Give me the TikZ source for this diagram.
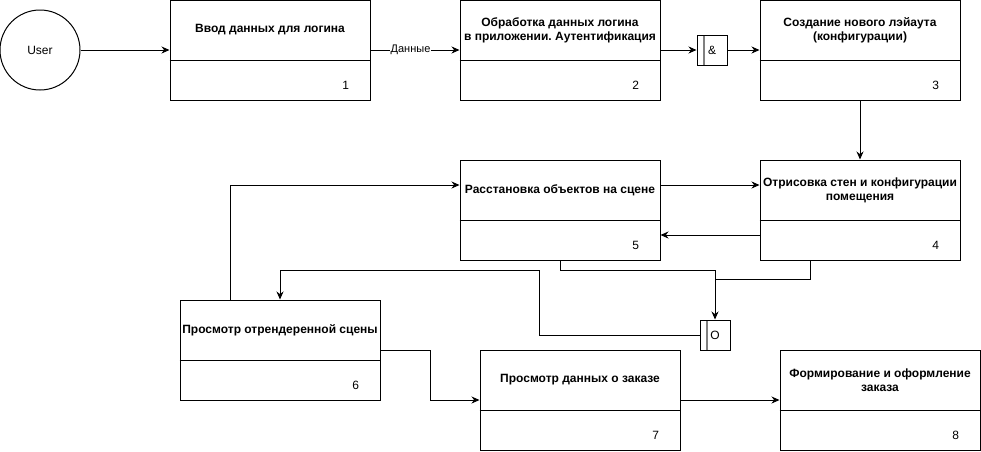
\documentclass[tikz,border=0pt]{standalone}
\usepackage{fontspec}
\setmainfont{Liberation Sans}
\frenchspacing
\usetikzlibrary{arrows.meta}
\tikzset{
  procbox/.style={draw, minimum width=200pt, minimum height=100pt, inner sep=0pt},
  titletxt/.style={font=\fontsize{12}{14}\selectfont\bfseries, align=center, inner sep=0pt},
  numtxt/.style={font=\fontsize{12}{14}\selectfont, inner sep=0pt, anchor=base east},
  actor/.style={draw, circle, minimum size=80pt, inner sep=0pt, font=\fontsize{12}{14}\selectfont},
  junct/.style={draw, minimum width=30pt, minimum height=30pt, inner sep=0pt,
    font=\fontsize{12}{14}\selectfont,
    path picture={\draw[gray, line width=1.5pt]
      ([xshift=7pt]path picture bounding box.south west) --
      ([xshift=7pt]path picture bounding box.north west);}},
  flowlbl/.style={fill=white, inner sep=1pt, font=\fontsize{11}{13}\selectfont},
  flow/.style={-{Stealth[length=8pt,width=7pt]}},
}
\begin{document}
\begin{tikzpicture}[x=1pt,y=-1pt,line width=1pt]
\useasboundingbox (0,0) rectangle (981,451);
\node[actor] (user) at (40,50) {User};
% boxes
\node[procbox] (b1) at (270,50) {};
\draw ([yshift=-10pt]b1.west) -- ([yshift=-10pt]b1.east);
\node[titletxt] (t1) at ([yshift=20pt]b1.center) {Ввод данных для логина};
\node[numtxt] (n1) at ([xshift=-21pt,yshift=11pt]b1.south east) {1};
\node[procbox] (b2) at (560,50) {};
\draw ([yshift=-10pt]b2.west) -- ([yshift=-10pt]b2.east);
\node[titletxt] (t2) at ([yshift=20pt]b2.center) {Обработка данных логина\\в приложении. Аутентификация};
\node[numtxt] (n2) at ([xshift=-21pt,yshift=11pt]b2.south east) {2};
\node[procbox] (b3) at (860,50) {};
\draw ([yshift=-10pt]b3.west) -- ([yshift=-10pt]b3.east);
\node[titletxt] (t3) at ([yshift=20pt]b3.center) {Создание нового лэйаута\\(конфигурации)};
\node[numtxt] (n3) at ([xshift=-21pt,yshift=11pt]b3.south east) {3};
\node[procbox] (b4) at (860,210) {};
\draw ([yshift=-10pt]b4.west) -- ([yshift=-10pt]b4.east);
\node[titletxt] (t4) at ([yshift=20pt]b4.center) {Отрисовка стен и конфигурации\\помещения};
\node[numtxt] (n4) at ([xshift=-21pt,yshift=11pt]b4.south east) {4};
\node[procbox] (b5) at (560,210) {};
\draw ([yshift=-10pt]b5.west) -- ([yshift=-10pt]b5.east);
\node[titletxt] (t5) at ([yshift=20pt]b5.center) {Расстановка объектов на сцене};
\node[numtxt] (n5) at ([xshift=-21pt,yshift=11pt]b5.south east) {5};
\node[procbox] (b6) at (280,350) {};
\draw ([yshift=-10pt]b6.west) -- ([yshift=-10pt]b6.east);
\node[titletxt] (t6) at ([yshift=20pt]b6.center) {Просмотр отрендеренной сцены};
\node[numtxt] (n6) at ([xshift=-21pt,yshift=11pt]b6.south east) {6};
\node[procbox] (b7) at (580,400) {};
\draw ([yshift=-10pt]b7.west) -- ([yshift=-10pt]b7.east);
\node[titletxt] (t7) at ([yshift=20pt]b7.center) {Просмотр данных о заказе};
\node[numtxt] (n7) at ([xshift=-21pt,yshift=11pt]b7.south east) {7};
\node[procbox] (b8) at (880,400) {};
\draw ([yshift=-10pt]b8.west) -- ([yshift=-10pt]b8.east);
\node[titletxt] (t8) at ([yshift=20pt]b8.center) {Формирование и оформление\\заказа};
\node[numtxt] (n8) at ([xshift=-21pt,yshift=11pt]b8.south east) {8};
% junctions
\node[junct] (jand) at (712,50) {\&};
\node[junct] (jor) at (715,335) {O};
% flows
\draw[flow] (user.east) -- (b1.west);
\draw[flow] (b1.east) -- node[flowlbl, pos=0.45] {Данные} (b2.west);
\draw[flow] (b2.east) -- (jand.west);
\draw[flow] (jand.east) -- (b3.west);
\draw[flow] (b3.south) -- (b4.north);
\draw[flow] ([yshift=25pt]b5.east) -- ([yshift=25pt]b4.west);
\draw[flow] ([yshift=-25pt]b4.west) -- ([yshift=-25pt]b5.east);
\draw[flow] ([xshift=-50pt]b6.north) |- ([yshift=25pt]b5.west);
\draw[flow] (b5.south) -- ++(0,10) -| (jor.north);
\draw ([xshift=-50pt]b4.south) |- ([yshift=40pt]jor.north);
\draw[flow] (jor.west) -- ++(-160,0) -- ++(0,-65) -| (b6.north);
\draw[flow] (b6.east) -- ++(50,0) |- (b7.west);
\draw[flow] (b7.east) -- (b8.west);
\end{tikzpicture}
\end{document}
